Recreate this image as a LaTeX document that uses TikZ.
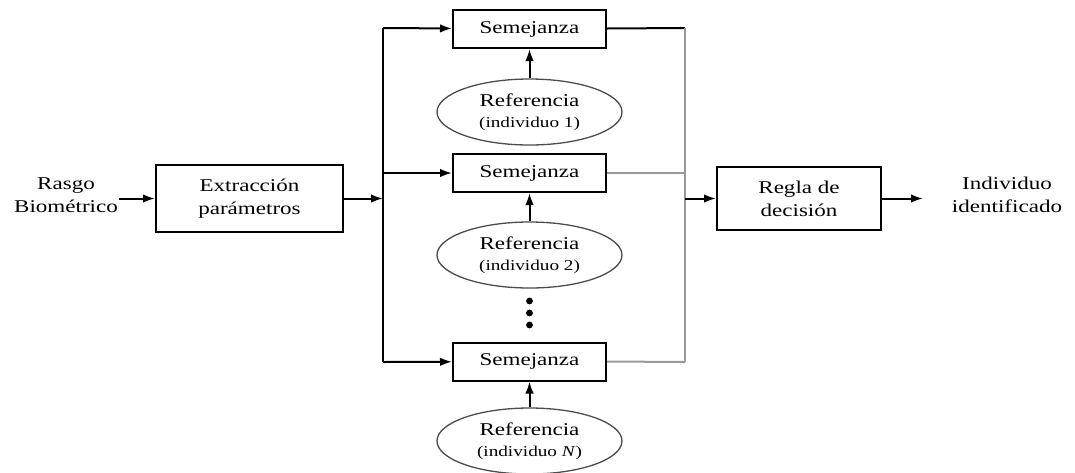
\documentclass[tikz,border=0pt]{standalone}
\usepackage{fontspec}
\setmainfont[FakeStretch=1.28]{Liberation Serif}
\usepackage{tikz}
\usetikzlibrary{arrows.meta, shapes.geometric, positioning}

\newcommand{\smalltxt}{\fontsize{15}{17}\selectfont}

\begin{document}
\begin{tikzpicture}[->,>={Latex[length=12pt,width=8.5pt]},x=1pt,y=-1pt,line width=2pt]
    \tikzstyle{every node}=[font=\fontsize{18}{23}\selectfont]
    \tikzstyle{box}=[shape=rectangle, fill=none, draw=black, text=black, align=center, inner sep=0pt]
    \tikzstyle{ref}=[shape=ellipse, fill=none, draw=black!70, line width=1.3pt, text=black, align=center, inner sep=0pt, minimum width=185, minimum height=66]
    \tikzstyle{h1}=[shape=rectangle, fill=none, draw=none, text=black, align=center, inner sep=0pt]

    \useasboundingbox (0,0) rectangle (1075,472);

    \node[h1]   (s0) at (66,195)   {Rasgo\\Biom\'etrico};
    \node[box, minimum width=187, minimum height=67] (s1) at (249.5,198.5) {Extracci\'on\\par\'ametros};

        \node[box, minimum width=153, minimum height=38] (s21) at (529.5,29)  {Semejanza};
        \node[box, minimum width=153, minimum height=38] (s22) at (529.5,173) {Semejanza};
        \node[box, minimum width=153, minimum height=38] (s23) at (529.5,361.5) {Semejanza};

            \node[ref] (s31) at (529.5,112) {Referencia\\[-2pt]{\smalltxt (individuo 1)}};
            \node[ref] (s32) at (529.5,255) {Referencia\\[-2pt]{\smalltxt (individuo 2)}};
            \node[ref] (s33) at (529.5,441) {Referencia\\[-2pt]{\smalltxt (individuo \textit{N})}};

    \node[box, minimum width=164, minimum height=63] (s4) at (799,198.5) {Regla de\\decisi\'on};
    \node[h1]   (s5) at (1007,195) {Individuo\\identificado};

    % buses
    \coordinate (b1) at (383,28);
    \coordinate (b3) at (383,362);
    \coordinate (r1) at (685,28);
    \coordinate (r3) at (685,362);
    \coordinate (o)  at (923,198.5);

    \foreach \y in {301,313,325}
        \fill (529.5,\y) circle (3.4);

    \draw[->] (s0.east |- s1) -- (s1);
    \draw[->] (s1) -- (b1 |- s1);
    \draw[-] (b1) -- (b3);
    \draw[->] (b1) -- (s21);
    \draw[->] (b1 |- s22) -- (s22);
    \draw[->] (b3) -- (s23);

    \path
    (s31)   edge  (s21)
    (s32)   edge  (s22)
    (s33)   edge  (s23)
    ;

    \draw[-] (s21) -- (r1);
    \draw[-, black!40] (s22) -- (s22 -| r1);
    \draw[-, black!40] (s23.east) -- (r3);
    \draw[-, black!40] (r1) -- (r3);
    \draw[->] (r1 |- s4) -- (s4);
    \draw[->] (s4) -- (o);

\end{tikzpicture}
\end{document}
